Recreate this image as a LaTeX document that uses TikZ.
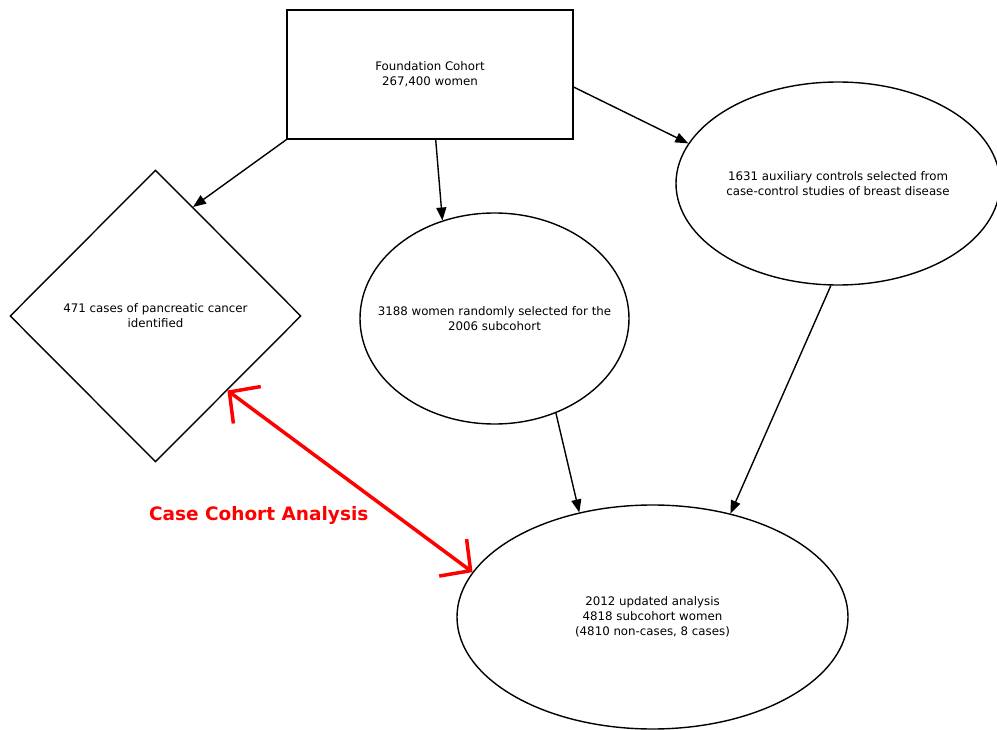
\documentclass[tikz,border=0pt]{standalone}
\usepackage{fontspec}
\setmainfont{DejaVu Sans}
\usetikzlibrary{shapes.geometric,arrows.meta}
\newcommand\cohortfont{\fontsize{11.8}{15}\selectfont}
\newcommand\ccafont{\fontsize{18.5}{22}\selectfont\bfseries}

\begin{document}
\begin{tikzpicture}[x=1pt,y=-1pt,
  box/.style={draw,line width=1.4pt,inner sep=0pt,align=center,font=\cohortfont},
  oval/.style={box,ellipse},
  every label/.style={font=\cohortfont,align=center,inner sep=0pt},
  flow/.style={line width=1.4pt,-{Triangle[length=13pt,width=10pt]}},
  cca/.style={red,line width=3.5pt,
    {Straight Barb[length=22pt,width=46pt]}-{Straight Barb[length=22pt,width=46pt]}}]
  \useasboundingbox (0,0) rectangle (997,730);
  \node[box,rectangle,minimum width=286pt,minimum height=129pt] (found) at (430,74.5)
    {Foundation Cohort\\267,400 women};
  \node[box,diamond,minimum width=291pt,minimum height=292pt] (cases) at (155.5,316)
    {471 cases of pancreatic cancer\\identified};
  \node[oval,minimum width=269pt,minimum height=211pt,
    label=center:{3188 women randomly selected for the\\2006 subcohort}] (sub) at (494.5,318.5) {};
  \node[oval,minimum width=324pt,minimum height=203pt,
    label=center:{1631 auxiliary controls selected from\\case-control studies of breast disease}] (aux) at (838,183.5) {};
  \node[oval,minimum width=391pt,minimum height=224pt,
    label=center:{2012 updated analysis\\4818 subcohort women\\(4810 non-cases, 8 cases)}] (upd) at (652.5,617) {};
  \draw[flow] (found.south west) -- (cases.71.5);
  \draw[flow] (found.-85.6) -- (sub.118.3);
  \draw[flow] (found.-5.7) -- (aux.165.4);
  \draw[flow] (sub.-57.9) -- (upd.125.9);
  \draw[flow] (aux.-94.5) -- (upd.53.8);
  \draw[cca] (cases.-46) -- (upd.166.9);
  \node[red,font=\ccafont] (cca-label) at (258.7,515.5) {Case Cohort Analysis};
\end{tikzpicture}
\end{document}
